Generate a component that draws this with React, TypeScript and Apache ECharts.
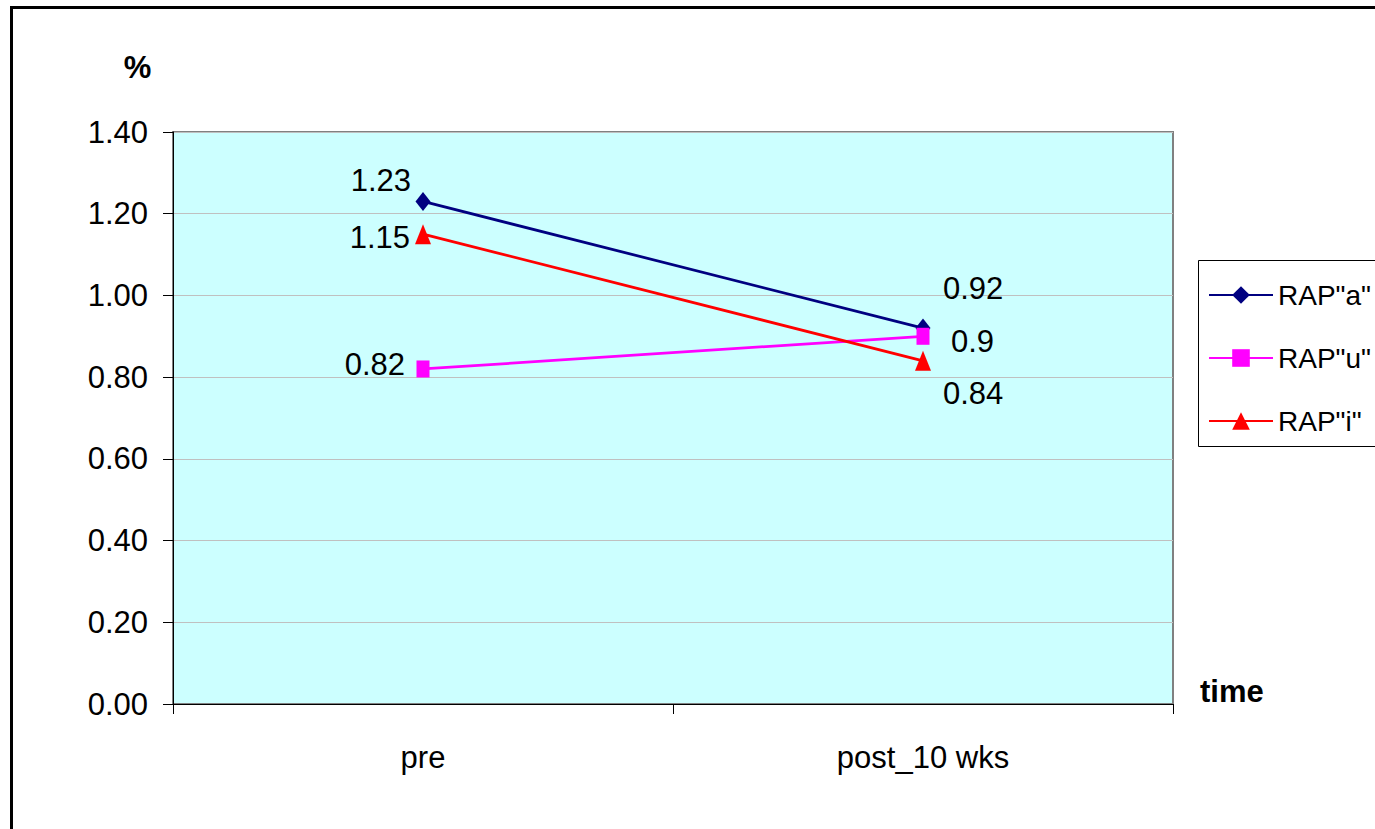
import React, { useEffect, useRef } from "react";
import * as echarts from "echarts";

const categories = ["pre", "post_10 wks"];
const seriesNames = ['RAP"a"', 'RAP"u"', 'RAP"i"'];
const valuesA = [1.23, 0.92];
const valuesU = [0.82, 0.9];
const valuesI = [1.15, 0.84];
const yMin = 0;
const yMax = 1.4;
const yInterval = 0.2;

const FONT = "'Liberation Sans Narrow', 'Arial Narrow', 'Liberation Sans', Arial, sans-serif";
const FS = 31;
const LEGEND_FS = 28;

// label placement styles: [align, dx, dy] per point
const labelA = [["right", -12, -21], ["left", 20, -40]];
const labelU = [["right", -18, -4], ["left", 28, 5]];
const labelI = [["right", -13, 3], ["left", 20, 33]];

function mkData(values: number[], lbl: any[]) {
  return values.map((v, i) => ({
    value: v,
    label: {
      show: true,
      position: "inside",
      align: lbl[i][0],
      verticalAlign: "middle",
      offset: [lbl[i][1], lbl[i][2]],
      color: "#000",
      fontFamily: FONT,
      fontSize: FS,
    },
  }));
}

export default function App() {
  const ref = useRef<HTMLDivElement>(null);
  useEffect(() => {
    if (!ref.current) return;
    const chart = echarts.init(ref.current, undefined, { renderer: "svg" });
    const colors = ["#000080", "#FF00FF", "#FF0000"];
    const symbols = ["diamond", "rect", "triangle"];
    const symbolSizes = [[15, 19], [13, 17], [16, 20]];
    const vals = [valuesA, valuesU, valuesI];
    const lbls = [labelA, labelU, labelI];
    chart.setOption({
      animation: false,
      backgroundColor: "#fff",
      textStyle: { fontFamily: FONT },
      grid: {
        left: 173,
        top: 132,
        width: 1000,
        height: 572,
        show: true,
        backgroundColor: "#CCFFFF",
        borderColor: "#808080",
        borderWidth: 2,
      },
      legend: {
        orient: "vertical",
        left: 1208,
        top: 275,
        itemWidth: 64,
        itemHeight: 22,
        itemGap: 23,
        padding: 0,
        textStyle: { fontFamily: FONT, fontSize: LEGEND_FS, color: "#000", lineHeight: 40 },
        data: seriesNames,
      },
      xAxis: {
        type: "category",
        data: categories,
        boundaryGap: true,
        axisLine: { show: true, lineStyle: { color: "#000", width: 1 } },
        axisTick: { show: true, length: 10, inside: false, lineStyle: { color: "#000" } },
        axisLabel: { color: "#000", fontFamily: FONT, fontSize: FS, margin: 38 },
        splitLine: { show: false },
      },
      yAxis: {
        type: "value",
        min: yMin,
        max: yMax,
        interval: yInterval,
        axisLine: { show: true, lineStyle: { color: "#000", width: 1 } },
        axisTick: { show: true, length: 10, lineStyle: { color: "#000" } },
        axisLabel: {
          color: "#000",
          fontFamily: FONT,
          fontSize: FS,
          margin: 25,
          formatter: (v: number) => v.toFixed(2),
        },
        splitLine: { show: true, lineStyle: { color: "#C0C0C0", width: 1 } },
      },
      graphic: [
        {
          type: "rect",
          shape: { x: 11.5, y: 7.5, width: 1500, height: 1000 },
          style: { fill: "none", stroke: "#000", lineWidth: 3 },
          silent: true,
          z: 100,
        },
        {
          type: "rect",
          shape: { x: 1198.5, y: 260.5, width: 300, height: 186 },
          style: { fill: "#fff", stroke: "#000", lineWidth: 1 },
          silent: true,
          z: -1,
        },
        {
          type: "text",
          x: 137.5,
          y: 67,
          style: {
            text: "%",
            fill: "#000",
            font: `bold ${FS}px ${FONT}`,
            align: "center",
            verticalAlign: "middle",
          },
        },
        {
          type: "text",
          x: 1200,
          y: 691,
          style: {
            text: "time",
            fill: "#000",
            font: `bold ${FS}px ${FONT}`,
            align: "left",
            verticalAlign: "middle",
          },
        },
      ],
      series: seriesNames.map((name, k) => ({
        name,
        type: "line",
        data: mkData(vals[k], lbls[k]),
        symbol: symbols[k],
        symbolSize: symbolSizes[k],
        showAllSymbol: true,
        color: colors[k],
        lineStyle: { color: colors[k], width: 2.75 },
        itemStyle: { color: colors[k] },
        emphasis: { disabled: true },
      })),
    });
    return () => chart.dispose();
  }, []);
  return (
    <div
      ref={ref}
      style={{ position: "absolute", left: 0, top: 0, width: 1375, height: 829 }}
    />
  );
}
